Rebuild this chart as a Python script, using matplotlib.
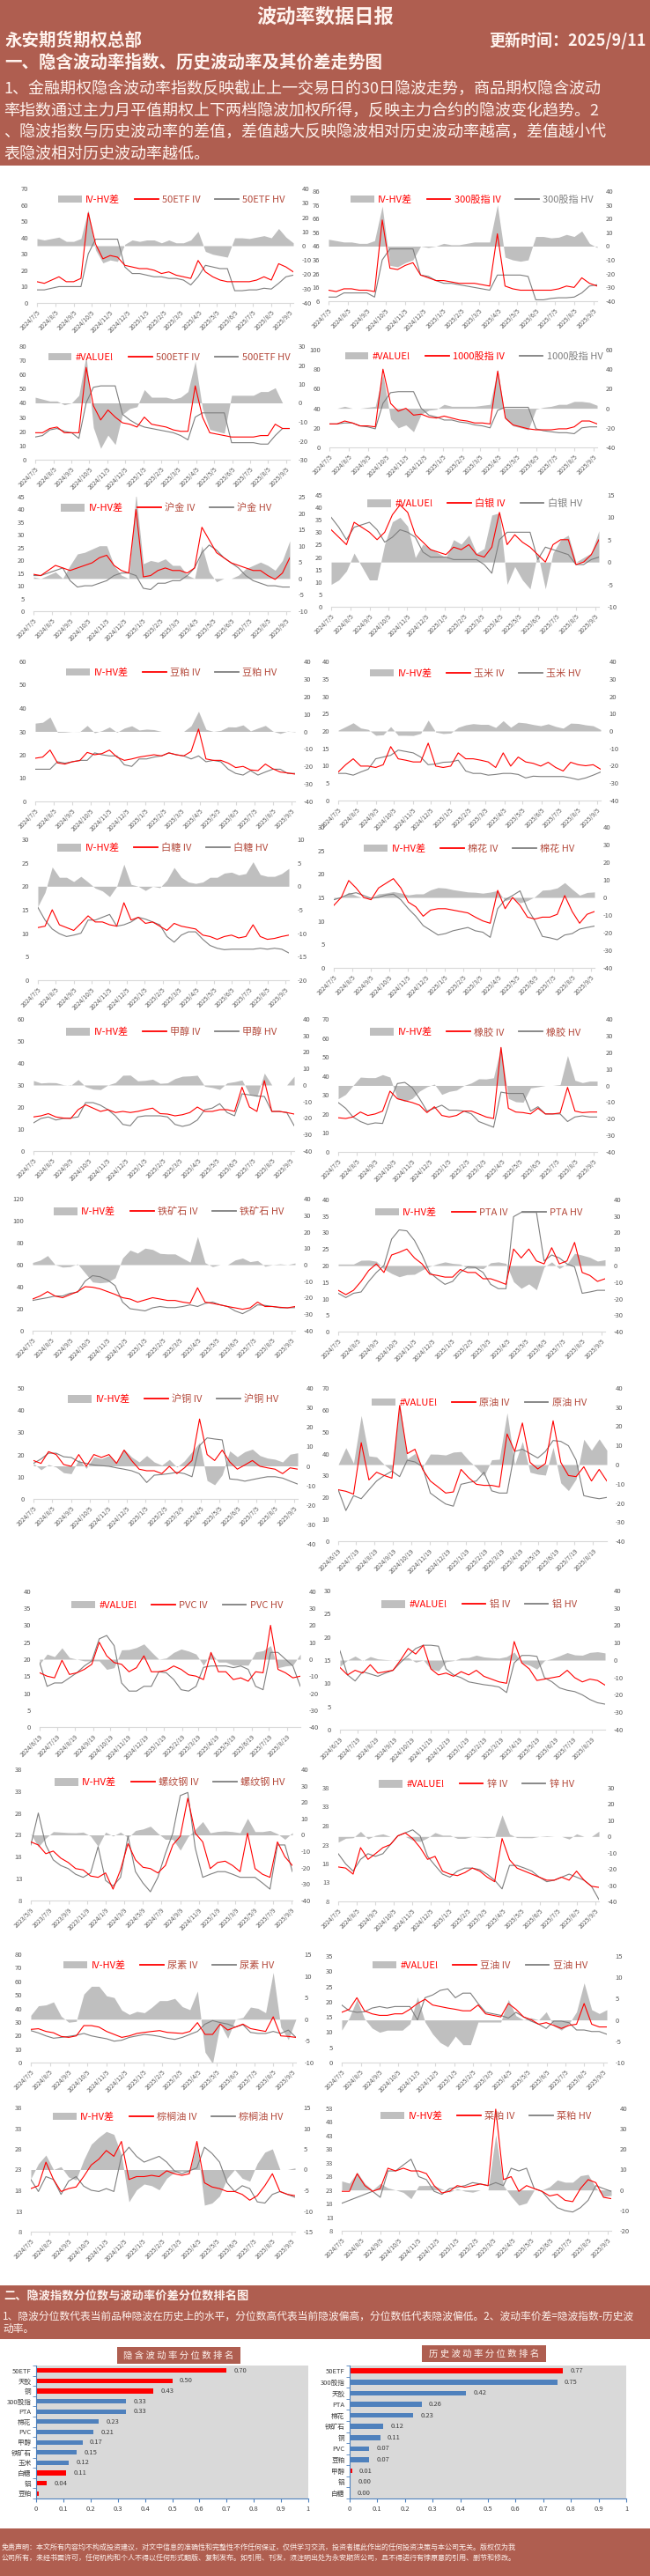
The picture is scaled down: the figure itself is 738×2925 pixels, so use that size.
import numpy as np
import pandas as pd
import matplotlib
matplotlib.use("Agg")
import matplotlib.pyplot as plt
from matplotlib.patches import Patch, Rectangle
from matplotlib.lines import Line2D

plt.rcParams['font.family'] = ['Noto Sans CJK SC', 'DejaVu Sans']
plt.rcParams['axes.unicode_minus'] = False

# ---------------------------------------------------------------- texts
HEADER_TITLE = '波动率数据日报'
HEADER_ORG = '永安期货期权总部'
HEADER_UPDATE = '更新时间：2025/9/11'
HEADER_SECTION1 = '一、隐含波动率指数、历史波动率及其价差走势图'
HEADER_NOTES = [
    '1、金融期权隐含波动率指数反映截止上一交易日的30日隐波走势，商品期权隐含波动',
    '率指数通过主力月平值期权上下两档隐波加权所得，反映主力合约的隐波变化趋势。2',
    '、隐波指数与历史波动率的差值，差值越大反映隐波相对历史波动率越高，差值越小代',
    '表隐波相对历史波动率越低。',
]
SECTION2_TITLE = '二、隐波指数分位数与波动率价差分位数排名图'
SECTION2_NOTES = [
    '1、隐波分位数代表当前品种隐波在历史上的水平，分位数高代表当前隐波偏高，分位数低代表隐波偏低。2、波动率价差=隐波指数-历史波',
    '动率。',
]
FOOTER_LINES = [
    '免责声明：本文所有内容均不构成投资建议，对文中信息的准确性和完整性不作任何保证，仅供学习交流，投资者据此作出的任何投资决策与本公司无关。版权仅为我',
    '公司所有，未经书面许可，任何机构和个人不得以任何形式翻版、复制发布。如引用、刊发，须注明出处为永安期货公司，且不得进行有悖原意的引用、删节和修改。',
]

# ---------------------------------------------------------------- date ticks
LAST_DAY = '2025/9/11'
TICKS_A = ['2024/7/5', '2024/8/5', '2024/9/5', '2024/10/5', '2024/11/5', '2024/12/5', '2025/1/5',
           '2025/2/5', '2025/3/5', '2025/4/5', '2025/5/5', '2025/6/5', '2025/7/5', '2025/8/5', '2025/9/5']
TICKS_B = ['2024/6/19', '2024/7/19', '2024/8/19', '2024/9/19', '2024/10/19', '2024/11/19', '2024/12/19',
           '2025/1/19', '2025/2/19', '2025/3/19', '2025/4/19', '2025/5/19', '2025/6/19', '2025/7/19', '2025/8/19']
TICKS_C = ['2023/5/9', '2023/7/9', '2023/9/9', '2023/11/9', '2024/1/9', '2024/3/9', '2024/5/9', '2024/7/9',
           '2024/9/9', '2024/11/9', '2025/1/9', '2025/3/9', '2025/5/9', '2025/7/9', '2025/9/9']

# ---------------------------------------------------------------- IV / HV series
ETF50_IV = [13, 12, 14, 16, 13, 13, 15, 55, 36, 27, 29, 28, 23, 22, 21, 21, 20, 18, 19, 17, 16, 15, 26, 19, 16, 14, 13, 13, 13, 13, 14, 16, 14, 24, 22, 19]
ETF50_HV = [8, 8, 9, 10, 10, 10, 10, 30, 39, 39, 39, 39, 22, 18, 18, 17, 16, 16, 15, 15, 14, 11, 16, 23, 22, 21, 21, 7.5, 7.5, 8, 8, 9, 8.5, 12, 16, 17]

HS300_IV = [14, 13, 15, 15, 14, 14, 13, 65, 30, 29, 32, 34, 25, 23, 21, 21, 20, 19, 19, 19, 18, 17, 55, 17, 15, 14, 14, 14, 14, 14, 15, 17, 16, 23, 19, 17]
HS300_HV = [9, 9, 12, 12, 12, 12, 9, 36, 44, 44, 44, 44, 25, 24, 21, 19, 19, 18, 17, 16, 15, 14, 25, 25, 25, 25, 24, 7, 7, 8, 8.5, 8.5, 9, 12, 17, 18]

ETF500_IV = [19, 19, 22, 23, 19, 19, 19, 65, 38, 28, 35, 30, 26, 25, 23, 30, 25, 24, 23, 21, 20, 20, 52, 30, 19, 18, 17, 16, 16, 16, 16, 17, 17, 25, 22, 22]
ETF500_HV = [16, 17, 21, 22, 20, 19, 15, 40, 51, 52, 52, 52, 32, 28, 25, 23, 22, 21, 20, 19, 17, 14, 30, 33, 33, 33, 33, 12, 12, 12, 12, 11, 11, 17, 22, 22]

ZZ1000_IV = [24, 24, 27, 25, 22, 22, 21, 80, 45, 37, 40, 33, 34, 31, 30, 32, 30, 28, 27, 25, 25, 24, 78, 30, 23, 21, 19, 18, 18, 18, 19, 19, 21, 27, 27, 24]
ZZ1000_HV = [24, 24, 25, 25, 22, 21, 19, 45, 56, 57, 57, 57, 40, 33, 31, 28, 28, 26, 25, 23, 22, 20, 38, 41, 41, 41, 41, 19, 17, 16, 15, 15, 14, 20, 21, 21]

GOLD_IV = [14.5, 14, 16, 18, 17, 16, 17, 18, 19, 21, 22, 18, 16, 15, 40, 13.5, 14, 16, 17, 16, 16, 15, 17, 33, 28, 23, 21, 19, 18, 17, 16, 16, 14, 12.5, 15, 21]
GOLD_HV = [14, 14, 15, 16, 17, 12, 9.5, 10, 10, 11, 12, 14, 15, 15, 14, 9, 8.5, 11, 11, 12, 12, 14, 17, 23, 26, 24, 21, 19, 17, 14, 12, 11, 10, 10, 9.5, 9.5]

SILVER_IV = [31, 28, 25, 34, 32, 30, 27, 30, 37, 41, 38, 29, 26, 23, 22, 21, 24, 23, 25, 21, 20, 24, 38, 25, 29, 26, 24, 21, 18, 25, 27, 27, 17, 18, 21, 27]
SILVER_HV = [36, 32, 27, 32, 33, 34, 31, 26, 28, 31, 30, 28, 22, 20, 20, 20, 19, 19, 19, 19, 17, 13.5, 27, 30, 30, 30, 30, 19, 24, 23, 22, 21, 17, 17, 19, 20]

SOYMEAL_IV = [18.5, 19, 22, 16.5, 16, 17, 17.5, 21, 20, 20.5, 22, 19, 17.6, 18.2, 19, 19.5, 20, 19.5, 20.8, 20, 19.5, 21.4, 31, 18.2, 17.6, 17.6, 16.4, 14.5, 15, 13.5, 13.2, 16, 14, 12.6, 12.2, 11.7]
SOYMEAL_HV = [13.8, 13.8, 13.8, 17, 16.4, 17, 17.6, 17.6, 20.8, 20, 19.5, 19.5, 15.7, 15, 18.2, 18.2, 19, 19.5, 20.8, 20, 19.5, 18.2, 19.5, 17, 17.6, 17, 13.8, 12, 11.3, 13.2, 11.3, 12.6, 13.8, 13.8, 12, 12]

CORN_IV = [8.2, 10.3, 12, 9.9, 9.9, 9.5, 10.3, 15.5, 12, 11.6, 11.1, 11.1, 16.5, 9.9, 9.5, 9.9, 13.7, 12, 12, 11.6, 11.1, 9.5, 13.7, 9.9, 12.5, 11.1, 10.7, 9.9, 11, 9.5, 8.5, 11, 10.3, 10, 10.3, 9]
CORN_HV = [7.8, 7.8, 7.3, 8.2, 9, 12, 12.5, 13, 14.5, 14.1, 13.7, 12.5, 10.3, 10.5, 11, 11.1, 11.6, 8.5, 7.8, 7.8, 7.3, 7.5, 7.8, 7.8, 7.5, 6.5, 7, 6.9, 6.9, 6.9, 6.9, 6.5, 6, 6.5, 7.3, 8.2]

SUGAR_IV = [11.2, 11.5, 15, 11.8, 11.2, 10.6, 12.1, 13.7, 12.4, 12.4, 11.8, 11.5, 16.5, 12.8, 13.4, 12.1, 12.4, 11.5, 10.6, 12.1, 11.5, 11.2, 10.9, 9.6, 9.3, 8.7, 9.3, 9.6, 9, 9.3, 11.8, 9.3, 8.7, 8.9, 9.3, 9.6]
SUGAR_HV = [15.5, 12.8, 10.9, 9.9, 9.3, 9.6, 10, 12.8, 12.8, 13.4, 14, 11.5, 11.8, 12.4, 13.4, 13, 12.4, 11.8, 9.3, 8.1, 9.6, 10.3, 10.3, 8.7, 7.4, 6.8, 6.5, 6.6, 6.6, 6.6, 6.6, 6.8, 6.6, 6.8, 6.6, 5.8]

COTTON_IV = [13.3, 15, 18.6, 17, 15, 14.5, 17, 18, 19, 17, 14, 13, 11, 12.3, 12.6, 12.6, 12.3, 12, 11.7, 10.8, 10, 9.5, 16.5, 12.6, 15, 13.3, 10.8, 10.4, 10.8, 10.8, 11.4, 15.4, 12, 9.5, 11.4, 12]
COTTON_HV = [14.5, 15, 15.7, 16, 15.4, 14.8, 15, 15.5, 15.7, 14.5, 12.6, 11, 9, 8, 7, 7.3, 7.9, 8.25, 8.6, 7.9, 7.6, 6.5, 12.6, 14.5, 15.4, 16.4, 12.6, 10, 6.7, 6.4, 6, 7, 7.3, 8.25, 8.6, 8.9]

MA_IV = [15.5, 16, 17, 15.5, 15, 14.8, 18.8, 21, 19.5, 18, 18.8, 17.5, 18, 17.5, 18, 18.8, 19.5, 17, 16.8, 16, 16.5, 17.5, 20, 18, 18, 18.8, 18.8, 18, 29, 20, 18, 32, 18, 18, 17.5, 16.8]
MA_HV = [12.8, 14.8, 15.5, 14.1, 14.8, 15, 15.5, 22, 22, 20.8, 18.8, 16, 12.1, 11.5, 15.5, 16, 16, 16, 15.5, 12.1, 11.2, 12, 14.1, 18.8, 19.5, 21.5, 17.5, 16, 26, 25.5, 25, 24.8, 18, 18, 17.5, 11.5]

RUBBER_IV = [18, 17.6, 18.4, 21, 19.2, 20, 21.5, 32, 28, 27, 26, 24.6, 20.7, 23.8, 19.2, 18.4, 19.2, 21.5, 21.5, 20, 18.4, 17.6, 55, 23, 21, 20.7, 20, 23, 20, 20, 20.5, 34, 21.5, 20.7, 21, 21]
RUBBER_HV = [26, 23, 18.4, 16, 14.5, 15.3, 15, 27, 36, 36.6, 33.8, 28, 21.5, 23, 24.6, 22, 22, 21.5, 20, 16, 14.5, 13, 31.5, 30.8, 30.8, 30.8, 21.5, 23.8, 20, 20, 20, 16, 18.4, 19, 18.4, 18.4]

IRON_IV = [28.8, 31.5, 35.5, 31.5, 30, 32.8, 35.5, 40, 39.5, 38, 35.5, 33, 30, 28.8, 26, 28, 30, 28.8, 27.5, 27.5, 26, 25, 39, 26, 24.8, 23.5, 22, 20.8, 19.5, 20.8, 26, 22, 22, 21.3, 20.8, 22]
IRON_HV = [27.5, 28.8, 30, 31.5, 31.5, 34, 35, 45, 50, 49, 46, 41, 26, 20, 19, 18, 20.8, 22, 21, 21, 22, 23.5, 22, 24.8, 26, 23.5, 22, 18, 15.5, 19, 23.5, 23, 22, 20.8, 20.8, 21]

PTA_IV = [12.5, 11.2, 12.5, 15.2, 18.5, 20.5, 17.9, 23.2, 24, 25, 22.3, 20.5, 17.4, 17, 16.5, 16.5, 18.8, 17.9, 17.9, 16, 16, 15.2, 14.3, 25, 22.3, 25, 21.4, 20.5, 25.4, 20.5, 21.4, 27, 17.9, 17, 15.2, 16]
PTA_HV = [11.6, 10.3, 11.6, 12, 15.2, 17.9, 20, 28, 30.8, 30.5, 27.6, 23.2, 17.9, 16, 14.3, 15.2, 17.9, 19.6, 19.4, 17.9, 14.3, 13, 13, 34.8, 36.1, 36.1, 36.1, 21.4, 23.2, 22.3, 20.5, 19.6, 11.6, 12, 12.5, 12.5]

CU_IV = [17.3, 16, 21.3, 20, 15.5, 14.7, 20, 14.7, 20, 18.7, 20, 16, 22, 17.3, 13.4, 12.7, 12.7, 11.4, 14.7, 11.4, 14, 17.3, 36, 20, 17.3, 22, 16.7, 13.4, 15.3, 17.3, 14.7, 14, 13.4, 11.4, 14, 13.4]
CU_HV = [16, 18, 20.6, 20.6, 19, 18.7, 16.7, 16, 15.3, 15, 14.7, 14, 13.4, 12.7, 11.4, 7.4, 10.7, 11, 11.4, 12, 11.4, 10, 24, 27.5, 27, 26.6, 9, 8.7, 8, 8.7, 9.4, 10, 10, 9.4, 8, 6.7]

OIL_IV = [23.5, 22.8, 21.5, 45, 28, 31.5, 30, 28.8, 62, 40, 42, 32.8, 27.5, 24.8, 22, 22.5, 32.8, 29, 26, 25.5, 25.5, 24.8, 49, 41, 54, 36, 33, 35.5, 55, 36, 30, 29.5, 34, 27.5, 32.8, 27.5]
OIL_HV = [23.5, 14, 20.8, 19.4, 23.5, 27.5, 30, 32, 29.5, 37, 36.2, 34, 22, 19.4, 17, 16, 26, 26.8, 27.5, 31.5, 23, 22, 22, 41, 42, 40, 38, 41, 46, 45.6, 43.6, 37, 20.8, 20, 19.4, 20]

PVC_IV = [16, 15, 14.5, 19.7, 15.5, 16, 17, 18.5, 25, 21, 19, 18.5, 16.3, 17.5, 21, 16.3, 16.3, 16.7, 18, 17, 15.4, 15, 14, 22, 16.3, 16.3, 14, 14.5, 13.5, 16.3, 16, 30, 17, 16, 14.5, 15]
PVC_HV = [19, 12, 13, 13, 14.5, 16, 18, 19.5, 26, 27, 24, 13, 10.6, 10.6, 12, 12, 16.3, 16, 14, 11, 10.6, 12, 17.6, 18, 18, 18, 17.5, 18, 17, 12, 11, 22, 22, 20, 18, 12]

AL_IV = [13.4, 11.8, 12.8, 12.2, 14, 12.2, 12.5, 12.8, 15, 17.5, 16.3, 18.2, 13.1, 11.8, 12.2, 11.5, 12.5, 11.8, 12.8, 11.5, 10.9, 10.3, 10, 19, 14.4, 13.1, 10.6, 10.9, 11.2, 11.5, 12.8, 11.2, 10.3, 10.9, 10.6, 9.6]
AL_HV = [17, 11.8, 10.5, 12.5, 12, 11.5, 12.2, 12.8, 14.5, 16, 17.5, 18.2, 18.2, 18, 13.1, 11.8, 11.2, 10.3, 10, 9.7, 9.5, 9.2, 8, 14.4, 16, 16, 15.8, 11.2, 10.3, 9, 8.5, 8.2, 7.5, 6.5, 5.8, 5.5]

REBAR_IV = [21.4, 20.7, 18.7, 19.3, 17.7, 16.7, 15.3, 15, 13.6, 13.3, 14.3, 10.6, 15, 21, 17.3, 15.6, 15.3, 14.3, 16, 20.7, 22.7, 31.4, 23.4, 21.4, 15.3, 16.7, 17, 16, 14.6, 23.4, 15.3, 14, 13.3, 21.4, 18, 16]
REBAR_HV = [20.7, 28, 20.7, 17.3, 16, 15.3, 14, 13.3, 14.3, 20.3, 12.6, 11.3, 13.3, 22.7, 14.6, 12, 10, 13.3, 18.7, 23.4, 32, 32.7, 20, 13.3, 14, 14.6, 14.6, 14, 13.3, 13.3, 13.3, 12, 10.6, 20.7, 20.7, 14.6]

ZN_IV = [17.1, 16.8, 15.2, 22.2, 19.1, 20.6, 22.2, 23, 25.3, 26.1, 24.6, 22.2, 19.1, 19.9, 16, 15.2, 14.8, 15.6, 16.8, 16, 14.4, 13.2, 24.6, 19, 16.8, 16, 15.2, 14.4, 13.6, 13.6, 14.4, 13.6, 16, 13.6, 12, 11.7]
ZN_HV = [20.6, 17.9, 16, 19.1, 20.6, 19.9, 20.6, 23, 25.3, 26.1, 26.9, 25.3, 19.9, 17.5, 15.2, 14.4, 16, 16.8, 16.8, 16.4, 15.2, 13.6, 11.3, 17.5, 17.5, 16.8, 16, 14.4, 13.2, 13.6, 14.4, 15.2, 14.4, 13.6, 12, 8.5]

UREA_IV = [24.5, 25, 23, 22, 19.3, 18.6, 19.7, 27.3, 27.3, 26.2, 23, 20.8, 18.6, 19.7, 21.5, 22.3, 23, 23.6, 22.3, 21.9, 21.5, 23, 29.5, 20.8, 20.8, 28.4, 24, 26.2, 28.4, 25.1, 24, 23, 33.8, 19.7, 19.3, 18.6]
UREA_HV = [23.6, 21.9, 19.7, 18, 18.6, 19.3, 20.2, 21.5, 19.7, 18.6, 17.6, 15.8, 16.5, 18.6, 19.7, 20.8, 20.2, 19.3, 18, 17.1, 18.6, 20.8, 23, 28.4, 31, 29.5, 28.4, 26.2, 28, 22.3, 21.5, 21.5, 23, 21.5, 24, 18.6]

SOYOIL_IV = [16.5, 17.5, 21.3, 17, 16, 15.5, 15.5, 16, 16, 17.5, 19.4, 20.8, 18.9, 18.4, 17.9, 17.5, 17, 17, 18.9, 16, 15.5, 15, 19.4, 17.5, 15, 14.1, 12.6, 13.1, 12.2, 11.2, 12.2, 12.6, 19.4, 12.6, 11.7, 11.7]
SOYOIL_HV = [18.9, 17, 16.5, 16.7, 17.9, 18.4, 17.9, 18.4, 18.4, 18.4, 14, 21.3, 22.2, 23.7, 24.2, 21.3, 22.8, 22.8, 19.4, 16.5, 16, 15.5, 14.6, 16.5, 15, 13.6, 12.6, 11.2, 13.6, 13.6, 13.1, 10.7, 10.7, 10.2, 10.2, 9.3]

PALM_IV = [18.4, 19.1, 24.8, 20.6, 17.7, 18.4, 18.8, 21.3, 24.1, 25.5, 27.6, 26.2, 29.8, 20.6, 21.3, 21.3, 21.6, 21.3, 22.7, 22, 21.6, 22, 29.8, 19.8, 18.8, 18.4, 17.7, 17.7, 17, 15.6, 16.7, 19.1, 22, 17.7, 17, 16.7]
PALM_HV = [20.6, 17.7, 21.3, 20.6, 17, 20.2, 21.3, 19, 18, 17.7, 18.4, 17.7, 26.2, 28.4, 26.2, 24.8, 25.5, 26.2, 24.8, 22.7, 22, 22.7, 23.4, 28.4, 26.9, 24.8, 19.8, 17.7, 19.1, 18.4, 15.2, 14.9, 17, 17.7, 17, 16.3]

RM_IV = [22.5, 22.5, 29, 24.6, 22.5, 23.5, 31, 30, 31, 30, 30, 29, 24.6, 21.9, 22.5, 24.6, 24, 24.6, 25.2, 24.6, 52.7, 26.8, 27.9, 22.5, 24.6, 23.5, 22.5, 20.8, 21.4, 19.2, 18.7, 23.5, 26.8, 25.7, 20.3, 19.8]
RM_HV = [18.1, 19.2, 20.3, 21.4, 22.5, 20.3, 30, 30, 32.2, 34.3, 27.9, 26.8, 22.5, 21.4, 23.5, 24, 24.6, 25.7, 25.2, 24.6, 25.7, 24.6, 31, 30, 31, 23.5, 22.5, 19.2, 16.5, 15.4, 14.9, 16.5, 19.2, 24.6, 23.5, 22.5]

# ---------------------------------------------------------------- percentile rankings
IV_RANK_NAMES = ['50ETF', '天胶', '铜', '300股指', 'PTA', '棉花', 'PVC', '甲醇', '铁矿石', '玉米', '白糖', '铝', '豆粕']
IV_RANK_VALUES = [0.70, 0.50, 0.43, 0.33, 0.33, 0.23, 0.21, 0.17, 0.15, 0.12, 0.11, 0.04, 0.01]
HV_RANK_NAMES = ['50ETF', '300股指', '天胶', 'PTA', '棉花', '铁矿石', '铜', 'PVC', '豆粕', '甲醇', '铝', '白糖']
HV_RANK_VALUES = [0.77, 0.75, 0.42, 0.26, 0.23, 0.12, 0.11, 0.07, 0.07, 0.008, 0.004, 0.0]

# ---------------------------------------------------------------- style
W, H = 738, 2925
BROWN = '#AF5E50'
PALE = '#FFF3EE'
RED = '#FF0000'
BLUE = '#4F81BD'
GRAY_LINE = '#7F7F7F'
GRAY_FILL = '#BFBFBF'
AXIS_LINE = '#D9D9D9'
TICK_TXT = '#595959'
LABEL_BROWN = '#B44A3C'
IV_RED_BARS = {'50ETF', '天胶', '铜', '白糖', '铝', '豆粕'}
HV_RED_BARS = {'50ETF', '甲醇', '铝', '白糖'}

fig = plt.figure(figsize=(W / 100, H / 100), dpi=100)


def fig_axes(x0, y0, x1, y1):
    # pixel box measured from the top-left corner of the page
    return fig.add_axes([x0 / W, 1 - y1 / H, (x1 - x0) / W, (y1 - y0) / H])


def band(y0, y1):
    fig.add_artist(Rectangle((0, 1 - y1 / H), 1, (y1 - y0) / H, transform=fig.transFigure,
                             facecolor=BROWN, edgecolor='none', zorder=0))


def ftext(x, y, s, **kw):
    kw.setdefault('va', 'center')
    fig.text(x / W, 1 - y / H, s, **kw)


def panel(name, iv, hv, ticks, diff_label, box, lax, rax, leg, rbox=None, lc='b'):
    t0 = pd.to_datetime(ticks[0], format='%Y/%m/%d')
    t1 = pd.to_datetime(LAST_DAY, format='%Y/%m/%d')
    x = pd.date_range(t0, t1, periods=len(iv))
    iv = np.asarray(iv, dtype=float)
    hv = np.asarray(hv, dtype=float)
    diff = iv - hv

    # right axis: IV-HV spread as grey area
    axr = fig_axes(*(rbox or box))
    axr.fill_between(x, diff, 0, color=GRAY_FILL, lw=0)
    axr.set_xlim(x[0], x[-1])
    axr.set_ylim(rax[0], rax[1])
    axr.set_yticks(np.arange(rax[0], rax[1] + 1, rax[2]))
    axr.yaxis.tick_right()
    axr.set_xticks([])
    axr.tick_params(axis='y', length=0, labelsize=5.5, labelcolor=TICK_TXT, pad=7)
    for s in axr.spines.values():
        s.set_visible(False)
    axr.patch.set_alpha(0)

    # left axis: IV and HV lines
    axl = fig_axes(*box)
    axl.patch.set_alpha(0)
    axl.plot(x, hv, color=GRAY_LINE, lw=0.8)
    axl.plot(x, iv, color=RED, lw=0.8)
    axl.set_xlim(x[0], x[-1])
    axl.set_ylim(lax[0], lax[1])
    axl.set_yticks(np.arange(lax[0], lax[1] + 1, lax[2]))
    axl.set_xticks(pd.to_datetime(ticks, format='%Y/%m/%d'))
    axl.set_xticklabels(ticks, rotation=45, ha='right', rotation_mode='anchor')
    axl.tick_params(axis='x', length=3, color=AXIS_LINE, labelsize=5, labelcolor=TICK_TXT, pad=2)
    axl.tick_params(axis='y', length=0, labelsize=5.5, labelcolor=TICK_TXT, pad=7)
    for k, s in axl.spines.items():
        s.set_visible(k == 'bottom')
    axl.spines['bottom'].set_color(AXIS_LINE)

    handles = [Patch(facecolor=GRAY_FILL, edgecolor='none'),
               Line2D([], [], color=RED, lw=1.3),
               Line2D([], [], color=GRAY_LINE, lw=1.3)]
    lg = fig.legend(handles, [diff_label, f'{name} IV', f'{name} HV'], loc='center',
                    bbox_to_anchor=(leg[0] / W, 1 - leg[1] / H), ncol=3, frameon=False,
                    fontsize=8, handlelength=2.4, handleheight=0.8, handletextpad=0.4,
                    columnspacing=1.5, borderpad=0, borderaxespad=0)
    cols = [RED, LABEL_BROWN, LABEL_BROWN] if lc == 'b' else [RED, RED, GRAY_LINE]
    for t, c in zip(lg.get_texts(), cols):
        t.set_color(c)


def rank_chart(box, tbox, title, names, values, reds, no_label=()):
    fig.add_artist(Rectangle((tbox[0] / W, 1 - tbox[3] / H), (tbox[2] - tbox[0]) / W,
                             (tbox[3] - tbox[1]) / H, transform=fig.transFigure,
                             facecolor=BROWN, edgecolor='none'))
    ftext((tbox[0] + tbox[2]) / 2, (tbox[1] + tbox[3]) / 2, ' '.join(title), ha='center',
          fontsize=7.5, color=PALE)
    ax = fig_axes(*box)
    ax.set_facecolor('#D9D9D9')
    y = np.arange(len(names))
    ax.barh(y, values, height=0.45, color=[RED if n in reds else BLUE for n in names])
    ax.set_xlim(0, 1)
    ax.set_ylim(len(names) - 0.5, -0.5)
    ax.set_xticks(np.arange(0, 1.01, 0.1))
    ax.set_xticklabels(['0'] + [f'{v:.1f}' for v in np.arange(0.1, 0.95, 0.1)] + ['1'])
    ax.set_yticks(y)
    ax.set_yticklabels(names)
    ax.set_yticks(np.arange(-0.5, len(names), 1), minor=True)
    ax.tick_params(axis='x', length=3, color=BLUE, labelsize=5.5, labelcolor='#404040', pad=3)
    ax.tick_params(axis='y', which='major', length=0, labelsize=5.5, labelcolor='#404040', pad=4)
    ax.tick_params(axis='y', which='minor', length=3, color=BLUE)
    for k in ('top', 'right'):
        ax.spines[k].set_visible(False)
    for k in ('left', 'bottom'):
        ax.spines[k].set_color(BLUE)
        ax.spines[k].set_linewidth(0.8)
    for yi, v, n in zip(y, values, names):
        if n not in no_label:
            ax.text(v + 0.027, yi, f'{v:.2f}', va='center', ha='left', fontsize=5.5, color='#404040')


# ---------------------------------------------------------------- header
band(0, 188)
ftext(369, 19, HEADER_TITLE, ha='center', fontsize=16, fontweight='bold', color=PALE)
ftext(5, 46, HEADER_ORG, ha='left', fontsize=14, fontweight='bold', color=PALE)
ftext(734, 46, HEADER_UPDATE, ha='right', fontsize=13, fontweight='bold', color=PALE)
ftext(5, 71, HEADER_SECTION1, ha='left', fontsize=14, fontweight='bold', color=PALE)
for i, line in enumerate(HEADER_NOTES):
    ftext(4, 101 + i * 24.5, line, ha='left', fontsize=13, color=PALE)

# ---------------------------------------------------------------- panels
panel('50ETF', ETF50_IV, ETF50_HV, TICKS_A, 'IV-HV差', (42, 214, 333, 344), (0, 70, 10), (-40, 40, 10), (195, 227))
panel('300股指', HS300_IV, HS300_HV, TICKS_A, 'IV-HV差', (373, 217, 678, 342), (6, 86, 10), (-40, 40, 10), (536, 227), lc='r')
panel('500ETF', ETF500_IV, ETF500_HV, TICKS_A, '#VALUE!', (40, 393, 329, 522), (0, 80, 10), (-30, 30, 10), (192, 406))
panel('1000股指', ZZ1000_IV, ZZ1000_HV, TICKS_A, '#VALUE!', (374, 397, 678, 508), (0, 100, 20), (-40, 60, 20), (538, 405), lc='r')
panel('沪金', GOLD_IV, GOLD_HV, TICKS_A, 'IV-HV差', (38, 564, 329, 694), (0, 45, 5), (-10, 25, 5), (189, 577))
panel('白银', SILVER_IV, SILVER_HV, TICKS_A, '#VALUE!', (376, 562, 680, 689), (0, 45, 5), (-10, 15, 5), (539, 572), lc='r')
panel('豆粕', SOYMEAL_IV, SOYMEAL_HV, TICKS_A, 'IV-HV差', (40, 751, 335, 910), (0, 60, 10), (-40, 40, 10), (195, 764))
panel('玉米', CORN_IV, CORN_HV, TICKS_A, 'IV-HV差', (384, 751, 682, 909), (0, 40, 5), (-40, 40, 10), (540, 765))
panel('白糖', SUGAR_IV, SUGAR_HV, TICKS_A, 'IV-HV差', (43, 953, 328, 1113), (0, 30, 5), (-20, 10, 5), (185, 963))
panel('棉花', COTTON_IV, COTTON_HV, TICKS_A, 'IV-HV差', (379, 939, 675, 1099), (0, 30, 5), (-40, 40, 10), (533, 964))
panel('甲醇', MA_IV, MA_HV, TICKS_A, 'IV-HV差', (38, 1157, 334, 1307), (0, 60, 10), (-40, 40, 10), (195, 1172))
panel('橡胶', RUBBER_IV, RUBBER_HV, TICKS_A, 'IV-HV差', (384, 1157, 678, 1308), (0, 70, 10), (-40, 40, 10), (540, 1172))
panel('铁矿石', IRON_IV, IRON_HV, TICKS_A, 'IV-HV差', (37, 1361, 335, 1511), (0, 120, 20), (-40, 40, 10), (192, 1376))
panel('PTA', PTA_IV, PTA_HV, TICKS_A, 'IV-HV差', (384, 1362, 687, 1512), (0, 40, 5), (-40, 40, 10), (544, 1377))
panel('沪铜', CU_IV, CU_HV, TICKS_A, 'IV-HV差', (38, 1576, 338, 1702), (0, 50, 10), (-40, 40, 10), (197, 1589),
      rbox=(38, 1576, 338, 1753))
panel('原油', OIL_IV, OIL_HV, TICKS_B, '#VALUE!', (384, 1576, 689, 1750), (0, 70, 10), (-40, 40, 10), (544, 1593))
panel('PVC', PVC_IV, PVC_HV, TICKS_B, '#VALUE!', (45, 1807, 341, 1961), (0, 40, 5), (-40, 40, 10), (201, 1823))
panel('铝', AL_IV, AL_HV, TICKS_B, '#VALUE!', (386, 1806, 687, 1964), (0, 30, 5), (-40, 40, 10), (544, 1822))
panel('螺纹钢', REBAR_IV, REBAR_HV, TICKS_C, 'IV-HV差', (35, 2009, 332, 2158), (8, 38, 5), (-40, 40, 10), (193, 2024))
panel('锌', ZN_IV, ZN_HV, TICKS_A, '#VALUE!', (384, 2030, 680, 2159), (8, 38, 5), (-40, 30, 10), (541, 2026))
panel('尿素', UREA_IV, UREA_HV, TICKS_A, 'IV-HV差', (35, 2219, 336, 2342), (0, 80, 10), (-10, 15, 5), (192, 2232))
panel('豆油', SOYOIL_IV, SOYOIL_HV, TICKS_A, '#VALUE!', (388, 2221, 689, 2342), (0, 35, 5), (-10, 15, 5), (545, 2232))
panel('棕榈油', PALM_IV, PALM_HV, TICKS_A, 'IV-HV差', (35, 2393, 335, 2534), (8, 38, 5), (-15, 15, 5), (191, 2404))
panel('菜粕', RM_IV, RM_HV, TICKS_A, 'IV-HV差', (388, 2394, 694, 2533), (8, 53, 5), (-20, 40, 10), (552, 2403))

# ---------------------------------------------------------------- section 2
band(2595, 2656)
ftext(4, 2607, SECTION2_TITLE, ha='left', fontsize=9.5, fontweight='bold', color=PALE)
ftext(3, 2630, SECTION2_NOTES[0], ha='left', fontsize=8.5, color=PALE)
ftext(3, 2644, SECTION2_NOTES[1], ha='left', fontsize=8.5, color=PALE)

rank_chart((41, 2686, 350, 2837), (133, 2665, 273, 2684), '隐含波动率分位数排名',
           IV_RANK_NAMES, IV_RANK_VALUES, IV_RED_BARS, no_label=('豆粕',))
rank_chart((397, 2686, 711, 2837), (479, 2663, 620, 2682), '历史波动率分位数排名',
           HV_RANK_NAMES, HV_RANK_VALUES, HV_RED_BARS)

# ---------------------------------------------------------------- footer
band(2871, 2925)
ftext(2, 2892, FOOTER_LINES[0], ha='left', fontsize=5.8, color=PALE)
ftext(2, 2904, FOOTER_LINES[1], ha='left', fontsize=5.8, color=PALE)

fig.savefig('out.png', dpi=100)
